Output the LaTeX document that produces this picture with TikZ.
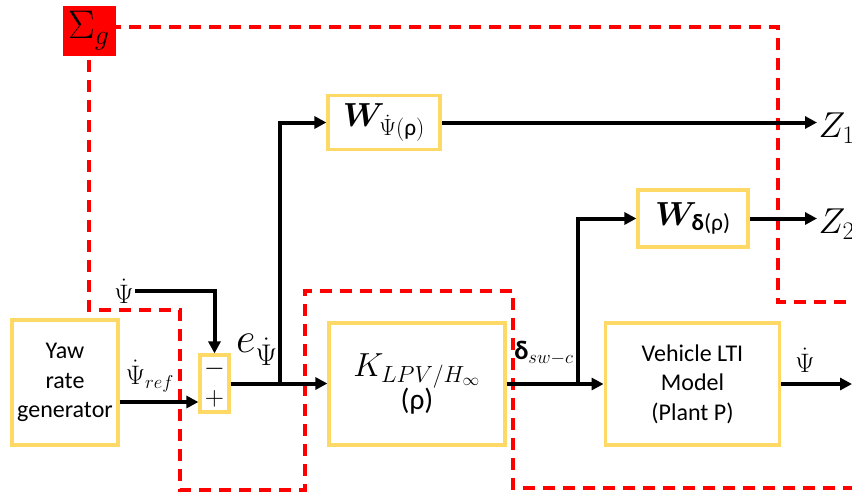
\RequirePackage{fix-cm}
\documentclass[tikz,border=0pt]{standalone}
\usepackage{amsmath,amssymb,bm}
\usepackage{fontspec}
\setmainfont{Carlito}
\usetikzlibrary{arrows.meta,positioning,calc}
\definecolor{boxY}{HTML}{FFD966}
\definecolor{sigR}{HTML}{FF0000}
\tikzset{
  % yellow-framed blocks
  blk/.style={draw=boxY, line width=2.4pt, fill=white, align=center,
    inner sep=0pt, font=\fontsize{18}{22}\selectfont},
  % generalized-plant boundary
  sig/.style={draw=sigR, line width=2.6pt, dash pattern=on 9pt off 6pt},
  A/.style={line width=3pt, -{Triangle[length=9pt,width=9pt]}},
  lbl/.style={inner sep=1pt, font=\fontsize{20}{24}\selectfont},
  big/.style={inner sep=1pt, font=\fontsize{27}{31}\selectfont},
}

\begin{document}
\begin{tikzpicture}[x=0.75pt, y=-0.75pt]
\useasboundingbox (0,0) rectangle (852,494);

% ---- blocks ----
\node[blk, minimum width=79.5pt, minimum height=93.75pt] (gen) at (65,382.5) {Yaw\\rate\\generator};
\node[blk, minimum width=21.75pt, minimum height=42.75pt] (sum) at (214.5,383.5) {};
\node[lbl] at (214.5,369) {$-$};
\node[lbl] at (214.5,399) {$+$};
\node[blk, minimum width=132pt, minimum height=91.5pt] (ctrl) at (417,384)
  {{\fontsize{25}{28}\selectfont $K_{LPV/H_\infty}$}\\[-1pt]{\fontsize{22}{26}\selectfont (ρ)}};
\node[blk, minimum width=131pt, minimum height=91.5pt] (plant) at (692.5,384)
  {Vehicle LTI\\Model\\(Plant P)};
\node[blk, minimum width=84pt, minimum height=41pt, font=\fontsize{25}{28}\selectfont]
  (wpsi) at (384,122.5) {$\bm{W}_{\dot\Psi(\text{ρ})}$};
\node[blk, minimum width=82.5pt, minimum height=42.75pt, font=\fontsize{25}{28}\selectfont]
  (wdelta) at (693,218.5) {$\bm{W}_{\text{\textbf{δ}(ρ)}}$};

% ---- outputs / labels ----
\node[big, anchor=west] (z1) at (817,128) {$Z_1$};
\node[big, anchor=west] (z2) at (817,224) {$Z_2$};
\node[lbl] (psifb) at (124,291) {$\dot\Psi$};
\node[lbl] at (150,376) {$\dot\Psi_{ref}$};
\node[big, font=\fontsize{32}{36}\selectfont] at (257,350) {$e_{\dot\Psi}$};
\node[lbl] at (544,353) {\textbf{δ}$_{sw-c}$};
\node[lbl] at (805,360) {$\dot\Psi$};
\coordinate (eb) at (280,383.5);
\coordinate (db) at (578,384);
\coordinate (out) at (852,384);

% ---- boundary of Sigma_g ----
\draw[sig] (89,27) -- (778,27) -- (778,302) -- (852,302);
\draw[sig] (89,40) -- (89,310) -- (180,310) -- (180,490) -- (305,490)
  -- (305,291) -- (513,291) -- (513,488) -- (852,488);
\node[fill=sigR, draw=sigR, minimum width=39pt, minimum height=36.75pt,
  inner sep=0pt, font=\fontsize{30}{34}\selectfont] (sigma) at (89,30.5) {$\Sigma_g$};

% ---- connectors ----
\draw[A] ($(gen.east)+(0,19.5)$) -- ($(sum.west)+(0,18.5)$);
\draw[A] (psifb.east) -| (sum.north);
\draw[A] (sum.east) -- (sum.east -| ctrl.west);
\draw[A, line cap=rect] (eb) |- (wpsi.west);
\draw[A] (wpsi.east) -- (z1.west |- wpsi.east);
\draw[A] (ctrl.east) -- (plant.west);
\draw[A, line cap=rect] (db) |- (wdelta.west);
\draw[A] (wdelta.east) -- (z2.west |- wdelta.east);
\draw[A] (plant.east) -- (out);

\end{tikzpicture}
\end{document}
